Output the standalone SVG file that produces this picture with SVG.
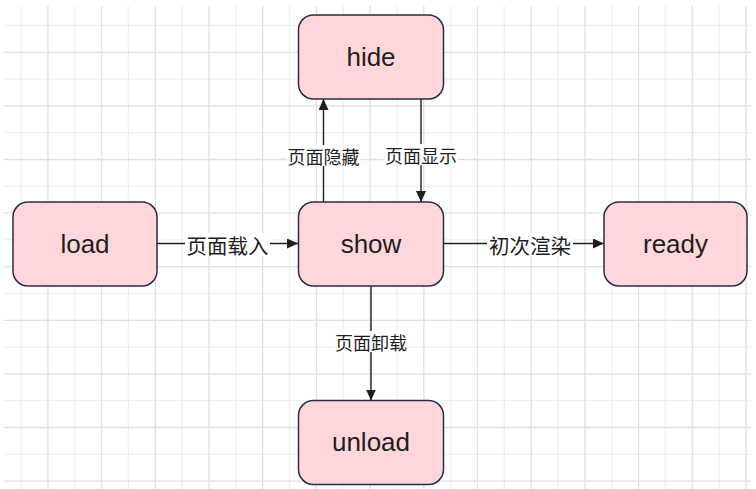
<svg xmlns="http://www.w3.org/2000/svg" width="756" height="489" viewBox="0 0 756 489">
<style>
.gl{stroke:#f0f0f0;stroke-width:1.3;fill:none}
.gd{stroke:#e0e0e0;stroke-width:1.3;fill:none}
.node rect{fill:#ffd7da;stroke:#2a2a4e;stroke-width:1.5}
.node text{font-family:"Liberation Sans",Arial,sans-serif;font-size:26px;fill:#1e1e1e;text-anchor:middle}
.edge{stroke:#1e1e1e;stroke-width:1.4;fill:none}
.lb{fill:#ffffff}
.lt{font-family:"Noto Sans CJK SC","Noto Sans",sans-serif;font-size:18px;fill:#1e1e1e;text-anchor:middle;dominant-baseline:central}
.lh{font-size:20.5px}
</style>
<defs>
<marker id="ah" viewBox="0 0 11 10" refX="11" refY="5" markerWidth="11" markerHeight="10" markerUnits="userSpaceOnUse" orient="auto">
<path d="M0,0 L11,5 L0,10 Z" fill="#1e1e1e"/>
</marker>
</defs>
<rect width="756" height="489" fill="#ffffff"/>
<g id="grid">
<path class="gl" d="M21,6V489M74.7,6V489M128.4,6V489M182.1,6V489M235.8,6V489M289.5,6V489M343.2,6V489M396.9,6V489M450.6,6V489M504.3,6V489M558,6V489M611.7,6V489M665.4,6V489M719.1,6V489"/>
<path class="gl" d="M4,25.5H751M4,79.1H751M4,132.7H751M4,186.3H751M4,239.9H751M4,293.5H751M4,347.1H751M4,400.7H751M4,454.3H751"/>
<path class="gd" d="M47.9,6V489M101.6,6V489M155.3,6V489M209,6V489M262.7,6V489M316.4,6V489M370.1,6V489M423.8,6V489M477.5,6V489M531.2,6V489M584.9,6V489M638.6,6V489M692.3,6V489M746,6V489"/>
<path class="gd" d="M4,52.3H751M4,105.9H751M4,159.5H751M4,213.1H751M4,266.7H751M4,320.3H751M4,373.9H751M4,427.5H751M4,481.1H751"/>
</g>
<g id="connectors">
<path class="edge" d="M157,243.5H298" marker-end="url(#ah)"/>
<path class="edge" d="M443,243.5H604" marker-end="url(#ah)"/>
<path class="edge" d="M323.5,202V99" marker-end="url(#ah)"/>
<path class="edge" d="M421,99V202" marker-end="url(#ah)"/>
<path class="edge" d="M371,286V400.5" marker-end="url(#ah)"/>
<rect class="lb" x="185" y="233" width="85" height="23"/>
<text class="lt lh" x="227.5" y="244.5">页面载入</text>
<rect class="lb" x="487" y="233" width="86" height="23"/>
<text class="lt lh" x="530" y="244.5">初次渲染</text>
<rect class="lb" x="287" y="145" width="73" height="21"/>
<text class="lt" x="323.5" y="155.5">页面隐藏</text>
<rect class="lb" x="384" y="144" width="74" height="21"/>
<text class="lt" x="421" y="154.5">页面显示</text>
<rect class="lb" x="334" y="331" width="74" height="21"/>
<text class="lt" x="371" y="341.5">页面卸载</text>
</g>
<g id="node-hide" class="node"><rect x="298.5" y="15" width="145" height="84" rx="15"/><text x="371" y="65.5">hide</text></g>
<g id="node-load" class="node"><rect x="13" y="202" width="144" height="84" rx="15"/><text x="85" y="252.5">load</text></g>
<g id="node-show" class="node"><rect x="298.5" y="202" width="145" height="84" rx="15"/><text x="371" y="252.5">show</text></g>
<g id="node-ready" class="node"><rect x="604" y="202" width="143" height="84" rx="15"/><text x="675.5" y="252.5">ready</text></g>
<g id="node-unload" class="node"><rect x="298.5" y="400.5" width="145" height="84" rx="15"/><text x="371" y="451">unload</text></g>
</svg>
